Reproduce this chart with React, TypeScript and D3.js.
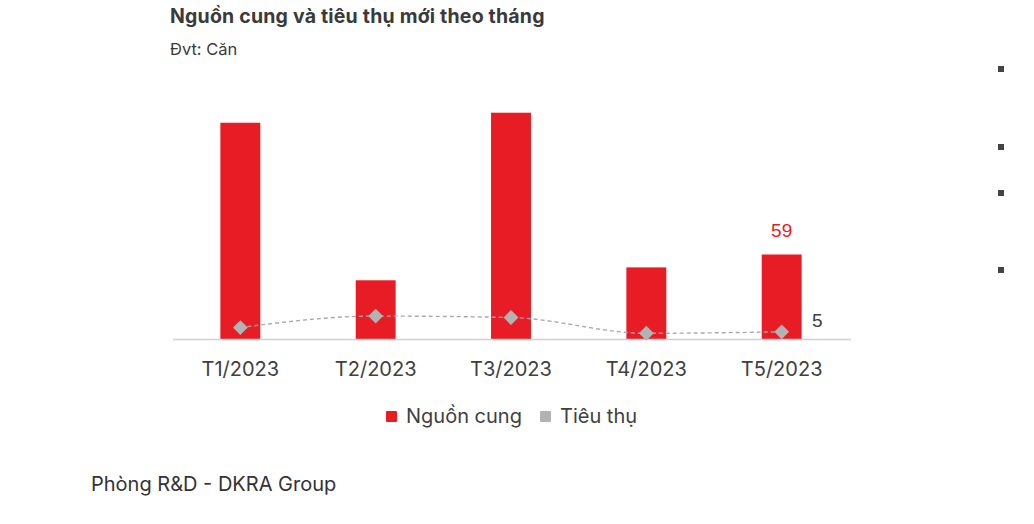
import React from "react";
import * as d3 from "d3";

const categories = ["T1/2023", "T2/2023", "T3/2023", "T4/2023", "T5/2023"];
const supply = [151, 41, 158, 50, 59];
const sales = [8, 16, 15, 4, 5];
const seriesNames = ["Nguồn cung", "Tiêu thụ"];
const bulletYs = [69, 147, 193, 270];

const W = 1034;
const H = 524;
const RED = "#e81c25";
const GRAY = "#b3b3b3";
const FONT = "Inter, 'Noto Sans', sans-serif";

export default function App() {
  const x = d3.scaleBand<string>().domain(categories).range([173, 849]).paddingInner(0.705).paddingOuter(0.35);
  const y = d3.scaleLinear().domain([0, 59]).range([339, 254.5]);
  const line = d3
    .line<number>()
    .x((_, i) => (x(categories[i]) as number) + x.bandwidth() / 2)
    .y((d) => y(d))
    .curve(d3.curveMonotoneX);
  const cx = (i: number) => (x(categories[i]) as number) + x.bandwidth() / 2;
  const last = categories.length - 1;

  return (
    <svg width={W} height={H} style={{ position: "absolute", left: 0, top: 0, background: "#fff" }} fontFamily={FONT}>
      <rect width={W} height={H} fill="#fff" />
      <text x={170} y={23} fontSize={19.5} fontWeight={700} fill="#3a3a3a" letterSpacing={0.2}>
        Nguồn cung và tiêu thụ mới theo tháng
      </text>
      <text x={170} y={55} fontSize={16.5} fill="#3a3a3a">
        Đvt: Căn
      </text>
      {bulletYs.map((by, i) => (
        <rect key={i} x={998} y={by - 3} width={6} height={6} fill="#444" />
      ))}
      {categories.map((c, i) => (
        <rect key={c} x={x(c)} y={y(supply[i])} width={x.bandwidth()} height={y(0) - y(supply[i])} fill={RED} />
      ))}
      <line x1={173} x2={851} y1={339.5} y2={339.5} stroke="#d0d0d0" strokeWidth={1.5} />
      <path d={line(sales) || ""} fill="none" stroke="#aaa" strokeWidth={1.4} strokeDasharray="4,3" />
      {sales.map((v, i) => (
        <path key={i} d={d3.symbol(d3.symbolSquare, 110)() || ""} transform={`translate(${cx(i)},${y(v)}) rotate(45)`} fill={GRAY} />
      ))}
      <text x={cx(last)} y={237} fontSize={19} fill={RED} textAnchor="middle" fontFamily="'Liberation Sans', Arial, sans-serif">
        {supply[last]}
      </text>
      <text x={812} y={327} fontSize={19} fill="#404040" fontFamily="'Liberation Sans', Arial, sans-serif">
        {sales[last]}
      </text>
      {categories.map((c, i) => (
        <text key={c} x={cx(i)} y={376} fontSize={20} fill="#404040" textAnchor="middle">
          {c}
        </text>
      ))}
      <rect x={386} y={411} width={11} height={11} fill={RED} rx={1} />
      <text x={406} y={423} fontSize={20} fill="#404040">{seriesNames[0]}</text>
      <rect x={540} y={411} width={11} height={11} fill={GRAY} rx={1} />
      <text x={560} y={423} fontSize={20} fill="#404040">{seriesNames[1]}</text>
      <text x={91} y={491} fontSize={20} fill="#333">Phòng R&amp;D - DKRA Group</text>
    </svg>
  );
}
